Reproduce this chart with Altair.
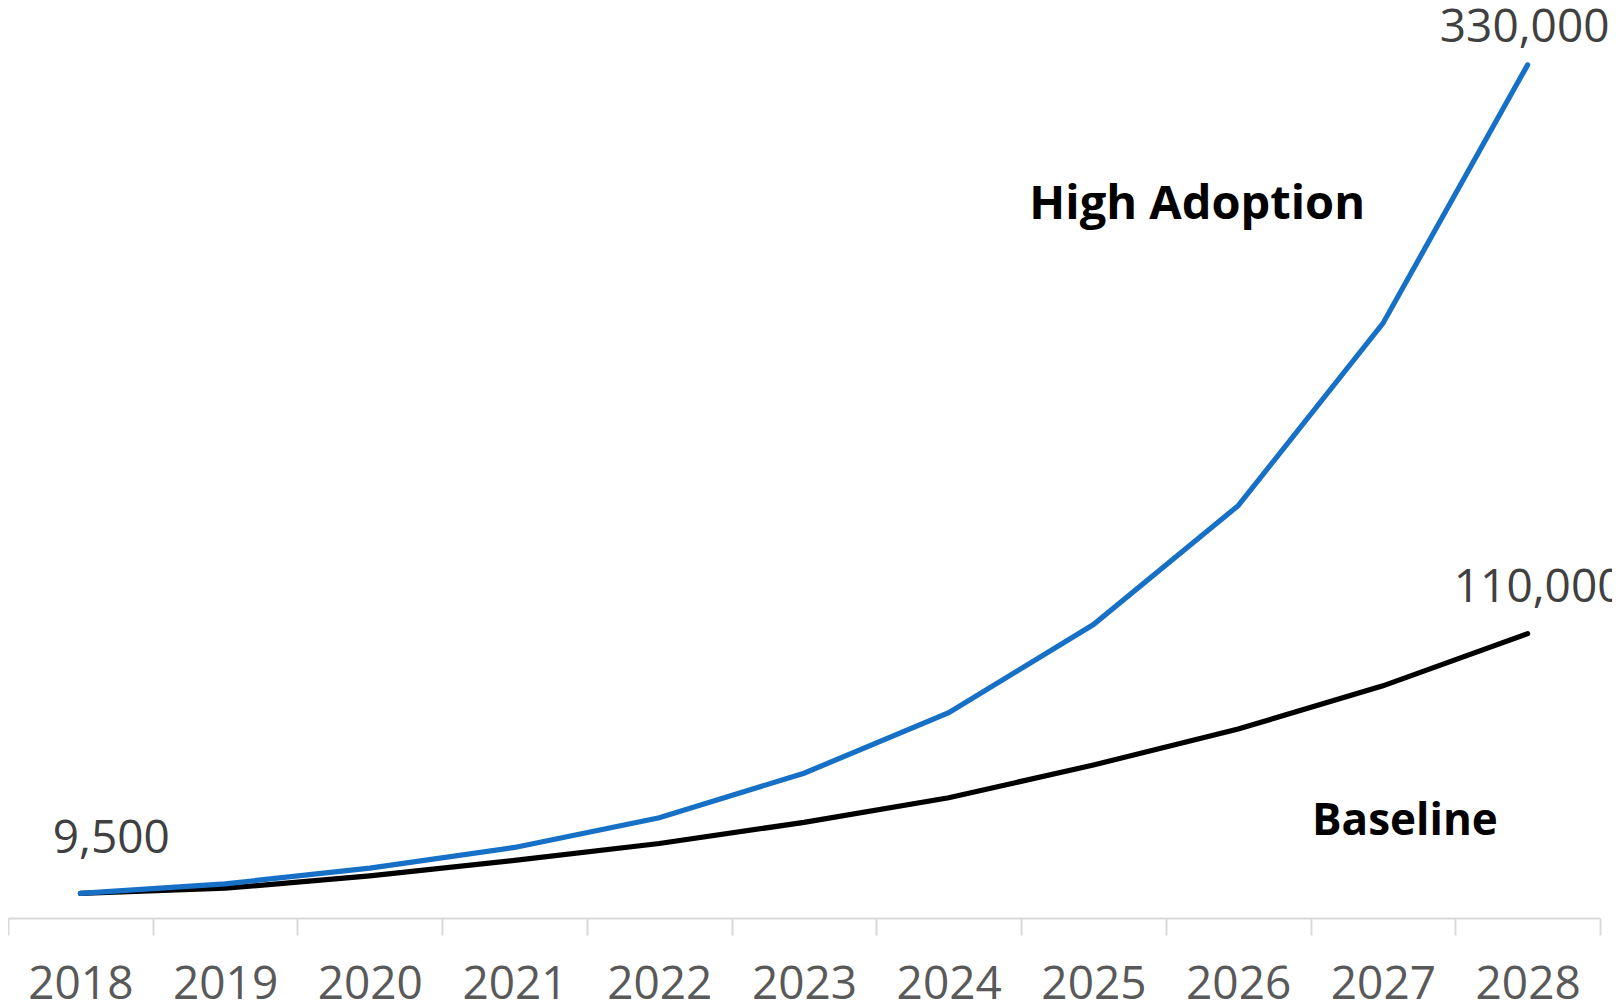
import altair as alt
import pandas as pd

# ---- data ----
years = list(range(2018, 2029))
high_adoption = [9500, 13200, 19300, 27300, 38800, 56000, 79400, 113500, 159500, 230000, 330000]
baseline = [9500, 11500, 16300, 22300, 28800, 37000, 46500, 59200, 73100, 89800, 110000]
series_names = ["Baseline", "High Adoption"]
series_colors = ["#000000", "#1570C6"]

rows = []
for name, vals in zip(series_names, [baseline, high_adoption]):
    for yr, v in zip(years, vals):
        rows.append({"year": yr, "value": v, "series": name})
df = pd.DataFrame(rows)

W, H = 1592, 910
band = W / len(years)
FONT = "Open Sans"

x_scale = alt.Scale(domain=[years[0] - 0.5, years[-1] + 0.5], nice=False, zero=False)
y_scale = alt.Scale(domain=[0, 352000], nice=False, zero=True)
tick_values = [yr - 0.5 for yr in years] + [years[-1] + 0.5]

x_axis = alt.Axis(
    values=tick_values,
    labelExpr=f"datum.value > {years[-1]} ? '' : format(datum.value + 0.5, 'd')",
    labelOffset=band / 2,
    labelFlush=False,
    labelBound=False,
    labelOverlap=False,
    labelAlign="center",
    labelBaseline="top",
    labelFont=FONT,
    labelFontSize=46,
    labelColor="#595959",
    labelPadding=27,
    tickSize=17,
    tickWidth=2,
    tickColor="#D9D9D9",
    domainColor="#D9D9D9",
    domainWidth=2,
    grid=False,
    title=None,
)

lines = alt.Chart(df).mark_line(strokeWidth=5.2, strokeCap="round").encode(
    x=alt.X("year:Q", scale=x_scale, axis=x_axis),
    y=alt.Y("value:Q", scale=y_scale, axis=None),
    color=alt.Color("series:N", scale=alt.Scale(domain=series_names, range=series_colors), legend=None),
)


def value_label(yr, val, dx, dy):
    return alt.Chart(pd.DataFrame({"year": [yr], "value": [val]})).mark_text(
        font=FONT, fontSize=46, color="#404040", baseline="alphabetic", align="center", dx=dx, dy=dy
    ).encode(
        x=alt.X("year:Q", scale=x_scale),
        y=alt.Y("value:Q", scale=y_scale),
        text=alt.Text("value:Q", format=","),
    )


start_lbl = value_label(years[0], high_adoption[0], 31, -40)
high_end_lbl = value_label(years[-1], high_adoption[-1], -3, -23)
base_end_lbl = value_label(years[-1], baseline[-1], 11, -32)


def name_label(name, yr, val, dx, size):
    return alt.Chart(pd.DataFrame({"year": [yr], "value": [val], "name": [name]})).mark_text(
        font=FONT, fontSize=size, fontWeight="bold", color="#000000", baseline="alphabetic", align="center", dx=dx
    ).encode(
        x=alt.X("year:Q", scale=x_scale),
        y=alt.Y("value:Q", scale=y_scale),
        text="name:N",
    )


high_name = name_label("High Adoption", 2026, 270400, -41, 47)
base_name = name_label("Baseline", 2027, 32100, 22, 44)

chart = alt.layer(lines, start_lbl, high_end_lbl, base_end_lbl, high_name, base_name).properties(
    width=W,
    height=H,
    autosize=alt.AutoSizeParams(type="none"),
    padding={"left": 0, "top": 0, "right": 12, "bottom": 90},
).configure_view(stroke=None)

chart.save("out.html", embed_options={"renderer": "svg", "actions": False})
